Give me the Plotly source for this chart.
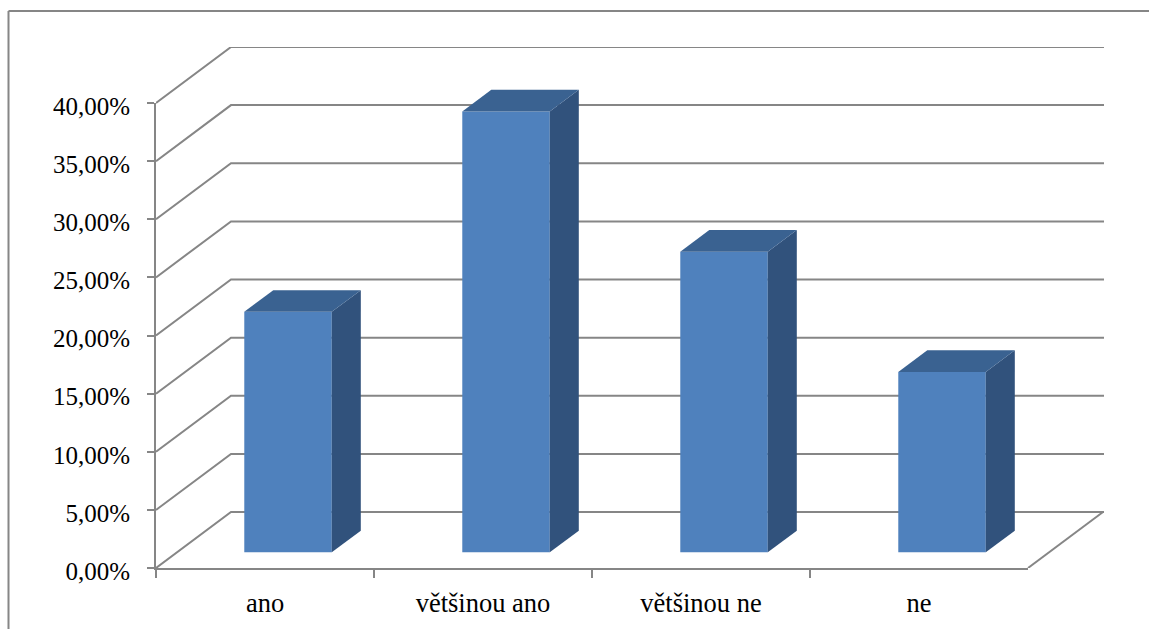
import plotly.graph_objects as go

categories = ["ano", "většinou ano", "většinou ne", "ne"]
values = [20.69, 37.93, 25.86, 15.52]
y_ticks = [0, 5, 10, 15, 20, 25, 30, 35, 40]

W, H = 1149, 629
X0, X_END, X_WALL = 156, 1028, 1104
Y0, Y40, Y_WALL = 568, 103, 47
CAT_PX = (X_END - X0) / len(categories)
VAL_PX = (Y0 - Y40) / 40
WALL_DX = 75 / CAT_PX
WALL_DY = 56 / VAL_PX
BAR_W = 87.5 / CAT_PX
FRONT_X = 0.307
FRONT_Y = 0.28
DEPTH = 0.387
GRID = "#868686"
FRONT_C, SIDE_C, TOP_C = "#4F81BD", "#31527C", "#3A6291"
FONT = dict(family="Liberation Serif", size=25, color="#000000")
XFONT = dict(family="Liberation Serif", size=26.5, color="#000000")

fig = go.Figure()

# category axis carrier
fig.add_trace(go.Scatter(x=categories, y=values, mode="markers", marker=dict(opacity=0),
                         hoverinfo="skip", xaxis="x", yaxis="y"))


def poly(xs, ys, color):
    fig.add_trace(go.Scatter(x=xs, y=ys, mode="lines", fill="toself", fillcolor=color,
                             line=dict(width=0, color=color), hoverinfo="skip",
                             xaxis="x2", yaxis="y2"))


x_max = (X_WALL - X0) / CAT_PX
for v in y_ticks:
    fig.add_trace(go.Scatter(x=[0, WALL_DX, x_max], y=[v, v + WALL_DY, v + WALL_DY], mode="lines",
                             line=dict(color=GRID, width=2), hoverinfo="skip",
                             xaxis="x2", yaxis="y2"))
fig.add_trace(go.Scatter(x=[len(categories), len(categories) + WALL_DX], y=[0, WALL_DY], mode="lines",
                         line=dict(color=GRID, width=2), hoverinfo="skip", xaxis="x2", yaxis="y2"))

fx = FRONT_X * WALL_DX
fy = FRONT_Y * WALL_DY
dx = DEPTH * WALL_DX
dy = DEPTH * WALL_DY
for i, v in enumerate(values):
    left = i + 0.5 - BAR_W / 2 + fx
    right = left + BAR_W
    top = v + fy
    poly([left, right, right, left, left], [fy, fy, top, top, fy], FRONT_C)
    poly([right, right + dx, right + dx, right, right], [fy, fy + dy, top + dy, top, fy], SIDE_C)
    poly([left, right, right + dx, left + dx, left], [top, top, top + dy, top + dy, top], TOP_C)

fig.update_layout(
    width=W, height=H, margin=dict(l=0, r=0, t=0, b=0), showlegend=False,
    paper_bgcolor="white", plot_bgcolor="rgba(0,0,0,0)", separators=",.", font=FONT,
    xaxis=dict(domain=[X0 / W, X_END / W], type="category", categoryorder="array",
               categoryarray=categories, range=[-0.5, 3.5], tickson="boundaries", ticks="outside",
               ticklen=8, tickwidth=2, tickcolor=GRID, showline=True, linecolor=GRID, linewidth=2,
               showgrid=False, zeroline=False, tickfont=XFONT, ticklabelstandoff=10, anchor="y",
               automargin=False),
    yaxis=dict(domain=[1 - Y0 / H, 1 - Y40 / H], range=[0, 40], tickmode="linear", tick0=0, dtick=5,
               tickformat=".2f", ticksuffix="%", ticks="outside", ticklen=7, tickwidth=2, tickcolor=GRID,
               showline=True, linecolor=GRID, linewidth=2, showgrid=False, zeroline=False,
               tickfont=FONT, ticklabelstandoff=12, ticklabelshift=3, anchor="x", automargin=False),
    xaxis2=dict(domain=[X0 / W, X_WALL / W], range=[0, x_max], visible=False, anchor="y2", automargin=False),
    yaxis2=dict(domain=[1 - Y0 / H, 1 - Y_WALL / H], range=[0, (Y0 - Y_WALL) / VAL_PX], visible=False,
                anchor="x2", automargin=False),
    shapes=[
        dict(type="line", xref="paper", yref="paper", x0=8.5 / W, x1=1, y0=1 - 11 / H, y1=1 - 11 / H,
             line=dict(color=GRID, width=2)),
        dict(type="line", xref="paper", yref="paper", x0=8.5 / W, x1=8.5 / W, y0=0, y1=1 - 11 / H,
             line=dict(color=GRID, width=2)),
    ],
)

fig.write_html("out.html", config=dict(displayModeBar=False),
               post_script="document.body.style.margin='0';document.documentElement.style.overflow='hidden';")
